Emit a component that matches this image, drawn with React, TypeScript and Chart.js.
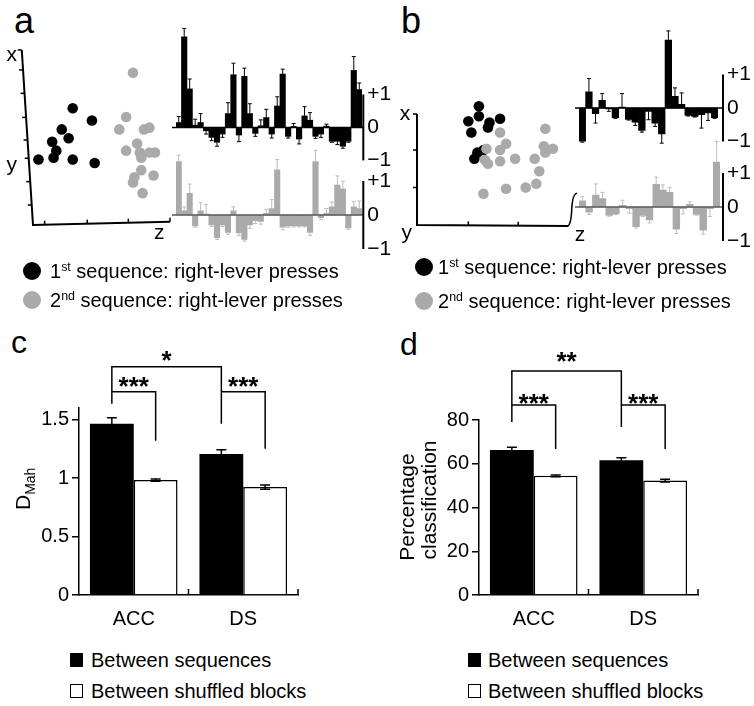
import React, { useEffect, useRef } from "react";
import { Chart, registerables } from "chart.js";

Chart.register(...registerables);

const FONT = 'Arial, "Liberation Sans", Helvetica, sans-serif';
Chart.defaults.font.family = FONT;
Chart.defaults.color = "#000";

const BLACK = "#000000";
const GRAY = "#aaaaaa";
const GRAY_ERR = "#bdbdbd";
const GRAY_ZERO = "#5a5a5a";

// ---------- Panel a : projections (normalised projection units) ----------
const A_SEQ1_X = [0.29, 0.43, 0.21, 0.26, 0.14, 0.17, 0.15, 0.04, 0.29, 0.45];
const A_SEQ1_Y = [0.66, 0.59, 0.54, 0.49, 0.47, 0.42, 0.38, 0.37, 0.37, 0.35];
const A_SEQ2_X = [0.73, 0.68, 0.63, 0.81, 0.85, 0.68, 0.76, 0.78, 0.79, 0.85, 0.89, 0.79, 0.88, 0.74, 0.73, 0.8];
const A_SEQ2_Y = [0.86, 0.61, 0.54, 0.54, 0.55, 0.42, 0.46, 0.41, 0.38, 0.41, 0.41, 0.31, 0.28, 0.27, 0.24, 0.18];

// Panel a : loadings of 34 neurons
const A_LOAD1 = [0.15, 2.75, 1.17, 0.07, 0.15, -0.1, -0.3, -0.45, -0.2, 0.42, 1.6, -0.23, 1.55, 0.42, -0.18, 0.05, 0.3, -0.2, 0.65, 1.62, -0.27, 0.03, -0.35, 0.35, 0.22, -0.27, -0.2, 0.04, -0.42, -0.42, -0.57, -0.42, 1.73, 1.15];
const A_LOAD1_ERR = [0.18, 0.25, 0.3, 0.18, 0.27, 0.1, 0.1, 0.12, 0.1, 0.33, 0.35, 0.2, 0.25, 0.3, 0.09, 0.18, 0.25, 0.12, 0.28, 0.15, 0.05, 0.09, 0.15, 0.28, 0.23, 0.06, 0.1, 0.06, 0.03, 0.1, 0.06, 0.03, 0.42, 0.2];
const A_LOAD2 = [1.57, 0.12, 0.64, -0.32, 0.12, 0.03, -0.29, -0.67, -0.29, -0.51, 0.12, -0.53, -0.72, -0.29, -0.17, -0.19, 0.05, 0.19, 1.33, -0.36, -0.32, -0.32, -0.32, -0.32, -0.51, 1.57, -0.08, 0.05, 0.24, 0.88, 0.77, -0.38, 0.24, 0.19];
const A_LOAD2_ERR = [0.19, 0.12, 0.27, 0.04, 0.24, 0.28, 0.05, 0.05, 0.05, 0.06, 0.12, 0.07, 0.05, 0.1, 0.08, 0.08, 0.12, 0.26, 0.3, 0.08, 0.04, 0.03, 0.03, 0.03, 0.09, 0.33, 0.06, 0.14, 0.14, 0.27, 0.22, 0.04, 0.16, 0.22];

// ---------- Panel b ----------
const B_SEQ1_X = [0.41, 0.34, 0.41, 0.48, 0.55, 0.47, 0.36, 0.4, 0.38, 0.44];
const B_SEQ1_Y = [0.95, 0.83, 0.87, 0.82, 0.85, 0.78, 0.74, 0.58, 0.53, 0.6];
const B_SEQ2_X = [0.85, 0.55, 0.59, 0.55, 0.46, 0.84, 0.9, 0.85, 0.47, 0.45, 0.55, 0.65, 0.78, 0.81, 0.79, 0.72, 0.59, 0.44];
const B_SEQ2_Y = [0.77, 0.74, 0.65, 0.6, 0.61, 0.63, 0.61, 0.58, 0.49, 0.52, 0.51, 0.53, 0.53, 0.43, 0.33, 0.3, 0.29, 0.25];

const B_LOAD1 = [-0.99, 0.48, -0.17, 0.23, -0.03, -0.29, 0.03, -0.34, -0.42, -0.67, -0.1, -0.45, -0.77, 2.03, 0.35, 0.11, -0.22, -0.25, -0.2, -0.15, -0.29];
const B_LOAD1_ERR = [0.03, 0.4, 0.28, 0.2, 0.07, 0.02, 0.4, 0.02, 0.1, 0.05, 0.25, 0.1, 0.28, 0.27, 0.25, 0.34, 0.02, 0.02, 0.4, 0.22, 0.02];
const B_LOAD2 = [0.18, -0.15, 0.35, 0.25, -0.25, -0.2, 0.05, -0.05, -0.58, -0.25, -0.38, 0.67, 0.5, 0.43, -0.65, -0.05, 0.08, -0.22, -0.68, -0.05, 1.32];
const B_LOAD2_ERR = [0.12, 0.07, 0.33, 0.18, 0.02, 0.02, 0.15, 0.13, 0.04, 0.03, 0.09, 0.21, 0.15, 0.15, 0.13, 0.15, 0.07, 0.02, 0.12, 0.23, 0.61];

const LOADING_TICKS = [1, 0, -1];
const LOADING_TICK_LABELS = ["+1", "0", "\u22121"];

// ---------- Panels c / d ----------
const REGIONS = ["ACC", "DS"];
const C_BETWEEN_SEQ = [1.466, 1.206];
const C_BETWEEN_SEQ_ERR = [0.05, 0.037];
const C_SHUFFLED = [0.983, 0.923];
const C_SHUFFLED_ERR = [0.01, 0.018];
const C_TICKS = [0, 0.5, 1, 1.5];

const D_BETWEEN_SEQ = [66.3, 61.6];
const D_BETWEEN_SEQ_ERR = [1.2, 1.2];
const D_SHUFFLED = [54.5, 52.3];
const D_SHUFFLED_ERR = [0.4, 0.6];
const D_TICKS = [0, 20, 40, 60, 80];

const C_BRACKETS = [
  { label: "*", from: [0, 0], to: [0, 1], top: 1.954, leftEnd: 1.637, rightEnd: 1.466, labelAt: 2.057 },
  { label: "***", from: [0, 0], to: [1, 0], top: 1.74, leftEnd: 1.74, rightEnd: 1.32, labelAt: 1.834 },
  { label: "***", from: [0, 1], to: [1, 1], top: 1.74, leftEnd: 1.74, rightEnd: 1.251, labelAt: 1.834 },
];
const D_BRACKETS = [
  { label: "**", from: [0, 0], to: [0, 1], top: 102.4, leftEnd: 79.1, rightEnd: 76.8, labelAt: 109.7 },
  { label: "***", from: [0, 0], to: [1, 0], top: 86.9, leftEnd: 86.9, rightEnd: 66.7, labelAt: 90.5 },
  { label: "***", from: [0, 1], to: [1, 1], top: 86.9, leftEnd: 86.9, rightEnd: 66.7, labelAt: 90.5 },
];

// ---------------------------------------------------------------------------
type Box = { left: number; top: number; width: number; height: number };
type Area = { l: number; t: number; r: number; b: number };

function padFor(box: Box, a: Area) {
  return {
    left: a.l - box.left,
    top: a.t - box.top,
    right: box.left + box.width - a.r,
    bottom: box.top + box.height - a.b,
  };
}

function ChartBox({ box, build }: { box: Box; build: () => any }) {
  const ref = useRef<HTMLCanvasElement | null>(null);
  useEffect(() => {
    if (!ref.current) return;
    const chart = new Chart(ref.current, build());
    return () => chart.destroy();
  }, []);
  return (
    <canvas
      ref={ref}
      width={box.width}
      height={box.height}
      style={{ position: "absolute", left: box.left, top: box.top, width: box.width, height: box.height }}
    />
  );
}

// ---------- loading bar chart (panels a, b) ----------
function loadingConfig(
  values: number[],
  errs: number[],
  o: { fill: string; errColor: string; zeroColor: string; min: number; max: number; box: Box; area: Area; axisGap: number }
) {
  const decor = {
    id: "loadingDecor",
    afterDatasetsDraw(chart: any) {
      const { ctx, chartArea } = chart;
      const y = chart.scales.y;
      const meta = chart.getDatasetMeta(0);
      ctx.save();
      ctx.strokeStyle = o.errColor;
      ctx.lineWidth = 1;
      meta.data.forEach((el: any, i: number) => {
        const v = values[i];
        const end = v + (v >= 0 ? errs[i] : -errs[i]);
        const x = el.x;
        const y1 = y.getPixelForValue(v);
        const y2 = y.getPixelForValue(end);
        ctx.beginPath();
        ctx.moveTo(x, y1);
        ctx.lineTo(x, y2);
        ctx.moveTo(x - 2, y2);
        ctx.lineTo(x + 2, y2);
        ctx.stroke();
      });
      const ax = chartArea.right + o.axisGap;
      const y0 = y.getPixelForValue(0);
      ctx.strokeStyle = o.zeroColor;
      ctx.lineWidth = 1.5;
      ctx.beginPath();
      ctx.moveTo(chartArea.left - 4, y0);
      ctx.lineTo(ax, y0);
      ctx.stroke();
      ctx.strokeStyle = BLACK;
      ctx.lineWidth = 2;
      ctx.beginPath();
      ctx.moveTo(ax, y.getPixelForValue(1));
      ctx.lineTo(ax, y.getPixelForValue(-1));
      ctx.stroke();
      ctx.fillStyle = BLACK;
      ctx.font = `21px ${FONT}`;
      ctx.textAlign = "left";
      ctx.textBaseline = "middle";
      LOADING_TICKS.forEach((t, k) => ctx.fillText(LOADING_TICK_LABELS[k], ax + 4, y.getPixelForValue(t)));
      ctx.restore();
    },
  };
  return {
    type: "bar",
    data: {
      labels: values.map((_, i) => String(i + 1)),
      datasets: [
        {
          data: values,
          backgroundColor: o.fill,
          borderWidth: 0,
          barPercentage: 1,
          categoryPercentage: 1,
        },
      ],
    },
    options: {
      responsive: false,
      animation: false,
      events: [],
      layout: { padding: padFor(o.box, o.area) },
      plugins: { legend: { display: false }, tooltip: { enabled: false } },
      scales: {
        x: { display: false },
        y: { display: false, min: o.min, max: o.max },
      },
    },
    plugins: [decor],
  };
}

// ---------- projection scatter (panels a, b) ----------
type AxisSpec = {
  path: number[][];
  leftTicks: number[][];
  upTicks: number[][];
  labels: { text: string; x: number; y: number }[];
  hook?: number[][];
};

function projectionConfig(s1x: number[], s1y: number[], s2x: number[], s2y: number[], box: Box, area: Area, ax: AxisSpec) {
  const axes = {
    id: "projAxes",
    beforeDatasetsDraw(chart: any) {
      const { ctx } = chart;
      const sx = chart.scales.x;
      const sy = chart.scales.y;
      const P = (p: number[]) => [sx.getPixelForValue(p[0]), sy.getPixelForValue(p[1])];
      ctx.save();
      ctx.strokeStyle = BLACK;
      ctx.lineWidth = 2;
      ctx.lineJoin = "miter";
      ctx.beginPath();
      ax.path.forEach((p, i) => {
        const [x, y] = P(p);
        if (i === 0) ctx.moveTo(x, y);
        else ctx.lineTo(x, y);
      });
      ctx.stroke();
      ctx.lineWidth = 1.5;
      ax.leftTicks.forEach((p) => {
        const [x, y] = P(p);
        ctx.beginPath();
        ctx.moveTo(x, y);
        ctx.lineTo(x - 4, y);
        ctx.stroke();
      });
      ax.upTicks.forEach((p) => {
        const [x, y] = P(p);
        ctx.beginPath();
        ctx.moveTo(x, y);
        ctx.lineTo(x, y - 4);
        ctx.stroke();
      });
      if (ax.hook) {
        ctx.lineWidth = 1.5;
        ctx.beginPath();
        const pts = ax.hook.map(P);
        ctx.moveTo(pts[0][0], pts[0][1]);
        ctx.quadraticCurveTo(pts[1][0], pts[1][1], pts[2][0], pts[2][1]);
        ctx.quadraticCurveTo(pts[3][0], pts[3][1], pts[4][0], pts[4][1]);
        ctx.stroke();
      }
      ctx.fillStyle = BLACK;
      ctx.font = `21px ${FONT}`;
      ctx.textAlign = "center";
      ctx.textBaseline = "middle";
      ax.labels.forEach((l) => {
        const [x, y] = P([l.x, l.y]);
        ctx.fillText(l.text, x, y);
      });
      ctx.restore();
    },
  };
  return {
    type: "scatter",
    data: {
      datasets: [
        {
          label: "1st sequence: right-lever presses",
          data: s1x.map((x, i) => ({ x, y: s1y[i] })),
          backgroundColor: BLACK,
          borderWidth: 0,
          pointRadius: 5.3,
          clip: false,
          order: 1,
        },
        {
          label: "2nd sequence: right-lever presses",
          data: s2x.map((x, i) => ({ x, y: s2y[i] })),
          backgroundColor: GRAY,
          borderWidth: 0,
          pointRadius: 5.3,
          clip: false,
          order: 0,
        },
      ],
    },
    options: {
      responsive: false,
      animation: false,
      events: [],
      layout: { padding: padFor(box, area) },
      plugins: { legend: { display: false }, tooltip: { enabled: false } },
      scales: {
        x: { type: "linear", display: false, min: 0, max: 1 },
        y: { type: "linear", display: false, min: 0, max: 1 },
      },
    },
    plugins: [axes],
  };
}

// ---------- grouped bar charts (panels c, d) ----------
function groupConfig(p: {
  seq: number[];
  seqErr: number[];
  shuf: number[];
  shufErr: number[];
  max: number;
  ticks: number[];
  box: Box;
  area: Area;
  brackets: { label: string; from: number[]; to: number[]; top: number; leftEnd: number; rightEnd: number; labelAt: number }[];
  title: (ctx: CanvasRenderingContext2D) => void;
}) {
  const pad = padFor(p.box, p.area);
  const yWidth = pad.left;
  const xHeight = pad.bottom;
  const errs = [p.seqErr, p.shufErr];
  const vals = [p.seq, p.shuf];
  const decor = {
    id: "groupDecor",
    afterDatasetsDraw(chart: any) {
      const { ctx } = chart;
      const y = chart.scales.y;
      const x = chart.scales.x;
      ctx.save();
      ctx.strokeStyle = BLACK;
      ctx.lineWidth = 1.5;
      [0, 1].forEach((d) => {
        chart.getDatasetMeta(d).data.forEach((el: any, i: number) => {
          const v = vals[d][i];
          const e = errs[d][i];
          const yt = y.getPixelForValue(v + e);
          const yb = y.getPixelForValue(v - e);
          ctx.beginPath();
          ctx.moveTo(el.x, yt);
          ctx.lineTo(el.x, yb);
          ctx.moveTo(el.x - 5, yt);
          ctx.lineTo(el.x + 5, yt);
          ctx.moveTo(el.x - 5, yb);
          ctx.lineTo(el.x + 5, yb);
          ctx.stroke();
        });
      });
      const base = y.getPixelForValue(0);
      [0.5, 1.5].forEach((v) => {
        const px = x.getPixelForValue(v);
        ctx.beginPath();
        ctx.moveTo(px, base);
        ctx.lineTo(px, base - 6);
        ctx.stroke();
      });
      ctx.lineWidth = 1.5;
      p.brackets.forEach((b) => {
        const x1 = chart.getDatasetMeta(b.from[0]).data[b.from[1]].x;
        const x2 = chart.getDatasetMeta(b.to[0]).data[b.to[1]].x;
        const yt = y.getPixelForValue(b.top);
        ctx.beginPath();
        ctx.moveTo(x1, y.getPixelForValue(b.leftEnd));
        ctx.lineTo(x1, yt);
        ctx.lineTo(x2, yt);
        ctx.lineTo(x2, y.getPixelForValue(b.rightEnd));
        ctx.stroke();
        ctx.fillStyle = BLACK;
        ctx.font = `bold 26px ${FONT}`;
        ctx.textAlign = "center";
        ctx.textBaseline = "alphabetic";
        ctx.fillText(b.label, (x1 + x2) / 2, y.getPixelForValue(b.labelAt) + 0.57 * 26);
      });
      p.title(ctx);
      ctx.restore();
    },
  };
  return {
    type: "bar",
    data: {
      labels: REGIONS,
      datasets: [
        {
          label: "Between sequences",
          data: p.seq,
          backgroundColor: BLACK,
          borderColor: BLACK,
          borderWidth: 0,
          barPercentage: 1,
          categoryPercentage: 0.8,
        },
        {
          label: "Between shuffled blocks",
          data: p.shuf,
          backgroundColor: "#ffffff",
          borderColor: BLACK,
          borderWidth: 1.5,
          borderSkipped: "bottom",
          barPercentage: 1,
          categoryPercentage: 0.8,
        },
      ],
    },
    options: {
      responsive: false,
      animation: false,
      events: [],
      layout: { padding: { left: 0, top: pad.top, right: pad.right, bottom: 0 } },
      plugins: { legend: { display: false }, tooltip: { enabled: false } },
      scales: {
        x: {
          afterFit: (s: any) => {
            s.height = xHeight;
          },
          border: { display: true, color: BLACK, width: 1.5 },
          grid: { display: false, drawTicks: false },
          ticks: { color: BLACK, font: { family: FONT, size: 20 }, padding: 12 },
        },
        y: {
          min: 0,
          max: p.max,
          afterBuildTicks: (s: any) => {
            s.ticks = p.ticks.map((v) => ({ value: v }));
          },
          afterFit: (s: any) => {
            s.width = yWidth;
          },
          border: { display: true, color: BLACK, width: 1.5 },
          grid: { display: true, drawOnChartArea: false, drawTicks: true, tickLength: 7, color: BLACK, lineWidth: 1.5 },
          ticks: { color: BLACK, font: { family: FONT, size: 20 }, padding: 3, callback: (v: any) => String(v) },
        },
      },
    },
    plugins: [decor],
  };
}

// ---------- HTML text helpers ----------
function Txt({ x, baseline, size, children }: { x: number; baseline: number; size: number; children: any }) {
  const lh = Math.round(size * 1.2);
  const top = baseline - (lh - 1.117 * size) / 2 - 0.905 * size;
  return (
    <div
      style={{
        position: "absolute",
        left: x,
        top,
        fontFamily: FONT,
        fontSize: size,
        lineHeight: `${lh}px`,
        whiteSpace: "nowrap",
        color: BLACK,
      }}
    >
      {children}
    </div>
  );
}

const Sup = ({ children }: { children: any }) => (
  <span style={{ fontSize: "0.62em", position: "relative", top: "-0.55em", verticalAlign: "baseline" }}>{children}</span>
);

function Dot({ cx, cy, color }: { cx: number; cy: number; color: string }) {
  return (
    <div
      style={{ position: "absolute", left: cx - 9, top: cy - 9, width: 18, height: 18, borderRadius: 9, background: color }}
    />
  );
}

function Square({ x, y, filled }: { x: number; y: number; filled: boolean }) {
  return (
    <div
      style={{
        position: "absolute",
        left: x,
        top: y,
        width: 13,
        height: 14,
        boxSizing: "border-box",
        background: filled ? BLACK : "#ffffff",
        border: `1.5px solid ${BLACK}`,
      }}
    />
  );
}

// ---------------------------------------------------------------------------
const BOX_A_PROJ: Box = { left: 0, top: 36, width: 185, height: 210 };
const AREA_A_PROJ: Area = { l: 33, t: 48, r: 170, b: 225 };
const BOX_A_L1: Box = { left: 168, top: 12, width: 226, height: 168 };
const AREA_A_L1: Area = { l: 176, t: 22, r: 362, b: 167 };
const BOX_A_L2: Box = { left: 168, top: 130, width: 226, height: 130 };
const AREA_A_L2: Area = { l: 176, t: 140.2, r: 362, b: 252.4 };

const BOX_B_PROJ: Box = { left: 395, top: 90, width: 190, height: 160 };
const AREA_B_PROJ: Area = { l: 417, t: 100, r: 568, b: 225 };
const BOX_B_L1: Box = { left: 570, top: 15, width: 184, height: 145 };
const AREA_B_L1: Area = { l: 579, t: 24.25, r: 718, b: 148.2 };
const BOX_B_L2: Box = { left: 570, top: 125, width: 184, height: 130 };
const AREA_B_L2: Area = { l: 579, t: 135.6, r: 720, b: 244.4 };

const BOX_C: Box = { left: 0, top: 330, width: 377, height: 310 };
const AREA_C: Area = { l: 79, t: 408, r: 298, b: 595 };
const BOX_D: Box = { left: 377, top: 330, width: 377, height: 310 };
const AREA_D: Area = { l: 479, t: 420, r: 698, b: 595 };

const A_AXES: AxisSpec = {
  path: [
    [-0.082, 0.989],
    [0, 0],
    [1.0, 0.019],
  ],
  leftTicks: [0.989, 0.876, 0.744, 0.608, 0.48, 0.377, 0.245, 0.113].map((y) => [-0.082 * (y / 0.989), y]),
  upTicks: [0.085, 0.396, 0.696, 1.0].map((x) => [x, 0.019 * x]),
  labels: [
    { text: "x", x: -0.155, y: 0.96 },
    { text: "y", x: -0.155, y: 0.34 },
    { text: "z", x: 0.922, y: -0.044 },
  ],
};

const B_AXES: AxisSpec = {
  path: [
    [0, 0.888],
    [0, 0],
    [1.0, -0.008],
  ],
  leftTicks: [0.888, 0.6, 0.3].map((y) => [0, y]),
  upTicks: [0.34, 0.67].map((x) => [x, -0.008 * x]),
  labels: [
    { text: "x", x: -0.079, y: 0.888 },
    { text: "y", x: -0.068, y: -0.066 },
    { text: "z", x: 1.08, y: -0.08 },
  ],
  hook: [
    [1.06, 0.255],
    [1.03, 0.25],
    [1.025, 0.13],
    [1.02, -0.01],
    [0.995, -0.008],
  ],
};

export default function App() {
  return (
    <div style={{ position: "absolute", left: 0, top: 0, width: 754, height: 706, background: "#ffffff", overflow: "hidden" }}>
      <Txt x={14} baseline={33} size={36}>a</Txt>
      <Txt x={401} baseline={33} size={36}>b</Txt>
      <Txt x={11} baseline={353} size={32}>c</Txt>
      <Txt x={400} baseline={355} size={32}>d</Txt>

      {/* panel a */}
      <ChartBox box={BOX_A_PROJ} build={() => projectionConfig(A_SEQ1_X, A_SEQ1_Y, A_SEQ2_X, A_SEQ2_Y, BOX_A_PROJ, AREA_A_PROJ, A_AXES)} />
      <ChartBox
        box={BOX_A_L1}
        build={() =>
          loadingConfig(A_LOAD1, A_LOAD1_ERR, {
            fill: BLACK, errColor: BLACK, zeroColor: BLACK, min: -1.2, max: 3.2, box: BOX_A_L1, area: AREA_A_L1, axisGap: 1.3,
          })
        }
      />
      <ChartBox
        box={BOX_A_L2}
        build={() =>
          loadingConfig(A_LOAD2, A_LOAD2_ERR, {
            fill: GRAY, errColor: GRAY_ERR, zeroColor: GRAY_ZERO, min: -1.1, max: 2.2, box: BOX_A_L2, area: AREA_A_L2, axisGap: 1.3,
          })
        }
      />
      <Dot cx={32} cy={270.5} color={BLACK} />
      <Txt x={50} baseline={278} size={20}>
        1<Sup>st</Sup> sequence: right-lever presses
      </Txt>
      <Dot cx={32} cy={299.5} color={GRAY} />
      <Txt x={50} baseline={307} size={20}>
        2<Sup>nd</Sup> sequence: right-lever presses
      </Txt>

      {/* panel b */}
      <ChartBox box={BOX_B_PROJ} build={() => projectionConfig(B_SEQ1_X, B_SEQ1_Y, B_SEQ2_X, B_SEQ2_Y, BOX_B_PROJ, AREA_B_PROJ, B_AXES)} />
      <ChartBox
        box={BOX_B_L1}
        build={() =>
          loadingConfig(B_LOAD1, B_LOAD1_ERR, {
            fill: BLACK, errColor: BLACK, zeroColor: BLACK, min: -1.2, max: 2.5, box: BOX_B_L1, area: AREA_B_L1, axisGap: 5,
          })
        }
      />
      <ChartBox
        box={BOX_B_L2}
        build={() =>
          loadingConfig(B_LOAD2, B_LOAD2_ERR, {
            fill: GRAY, errColor: GRAY_ERR, zeroColor: GRAY_ZERO, min: -1.1, max: 2.1, box: BOX_B_L2, area: AREA_B_L2, axisGap: 3,
          })
        }
      />
      <Dot cx={423.5} cy={267} color={BLACK} />
      <Txt x={438} baseline={274} size={20}>
        1<Sup>st</Sup> sequence: right-lever presses
      </Txt>
      <Dot cx={424} cy={300.5} color={GRAY} />
      <Txt x={438} baseline={308} size={20}>
        2<Sup>nd</Sup> sequence: right-lever presses
      </Txt>

      {/* panel c */}
      <ChartBox
        box={BOX_C}
        build={() =>
          groupConfig({
            seq: C_BETWEEN_SEQ,
            seqErr: C_BETWEEN_SEQ_ERR,
            shuf: C_SHUFFLED,
            shufErr: C_SHUFFLED_ERR,
            max: 1.6,
            ticks: C_TICKS,
            box: BOX_C,
            area: AREA_C,
            brackets: C_BRACKETS,
            title: (ctx) => {
              ctx.save();
              ctx.translate(30, 180);
              ctx.rotate(-Math.PI / 2);
              ctx.fillStyle = BLACK;
              ctx.textAlign = "left";
              ctx.textBaseline = "alphabetic";
              ctx.font = `21px ${FONT}`;
              ctx.fillText("D", 0, 0);
              const w = ctx.measureText("D").width;
              ctx.font = `14px ${FONT}`;
              ctx.fillText("Mah", w, 5);
              ctx.restore();
            },
          })
        }
      />
      <Square x={70} y={653} filled={true} />
      <Txt x={91} baseline={667} size={20}>Between sequences</Txt>
      <Square x={70} y={683.5} filled={false} />
      <Txt x={91} baseline={698} size={20}>Between shuffled blocks</Txt>

      {/* panel d */}
      <ChartBox
        box={BOX_D}
        build={() =>
          groupConfig({
            seq: D_BETWEEN_SEQ,
            seqErr: D_BETWEEN_SEQ_ERR,
            shuf: D_SHUFFLED,
            shufErr: D_SHUFFLED_ERR,
            max: 80,
            ticks: D_TICKS,
            box: BOX_D,
            area: AREA_D,
            brackets: D_BRACKETS,
            title: (ctx) => {
              ctx.save();
              ctx.fillStyle = BLACK;
              ctx.textAlign = "center";
              ctx.textBaseline = "alphabetic";
              ctx.font = `21px ${FONT}`;
              ctx.translate(36.5, 177);
              ctx.rotate(-Math.PI / 2);
              ctx.fillText("Percentage", 0, 0);
              ctx.restore();
              ctx.save();
              ctx.fillStyle = BLACK;
              ctx.textAlign = "center";
              ctx.textBaseline = "alphabetic";
              ctx.font = `21px ${FONT}`;
              ctx.translate(59, 170);
              ctx.rotate(-Math.PI / 2);
              ctx.fillText("classification", 0, 0);
              ctx.restore();
            },
          })
        }
      />
      <Square x={468} y={653} filled={true} />
      <Txt x={488} baseline={667} size={20}>Between sequences</Txt>
      <Square x={468} y={683.5} filled={false} />
      <Txt x={488} baseline={698} size={20}>Between shuffled blocks</Txt>
    </div>
  );
}
